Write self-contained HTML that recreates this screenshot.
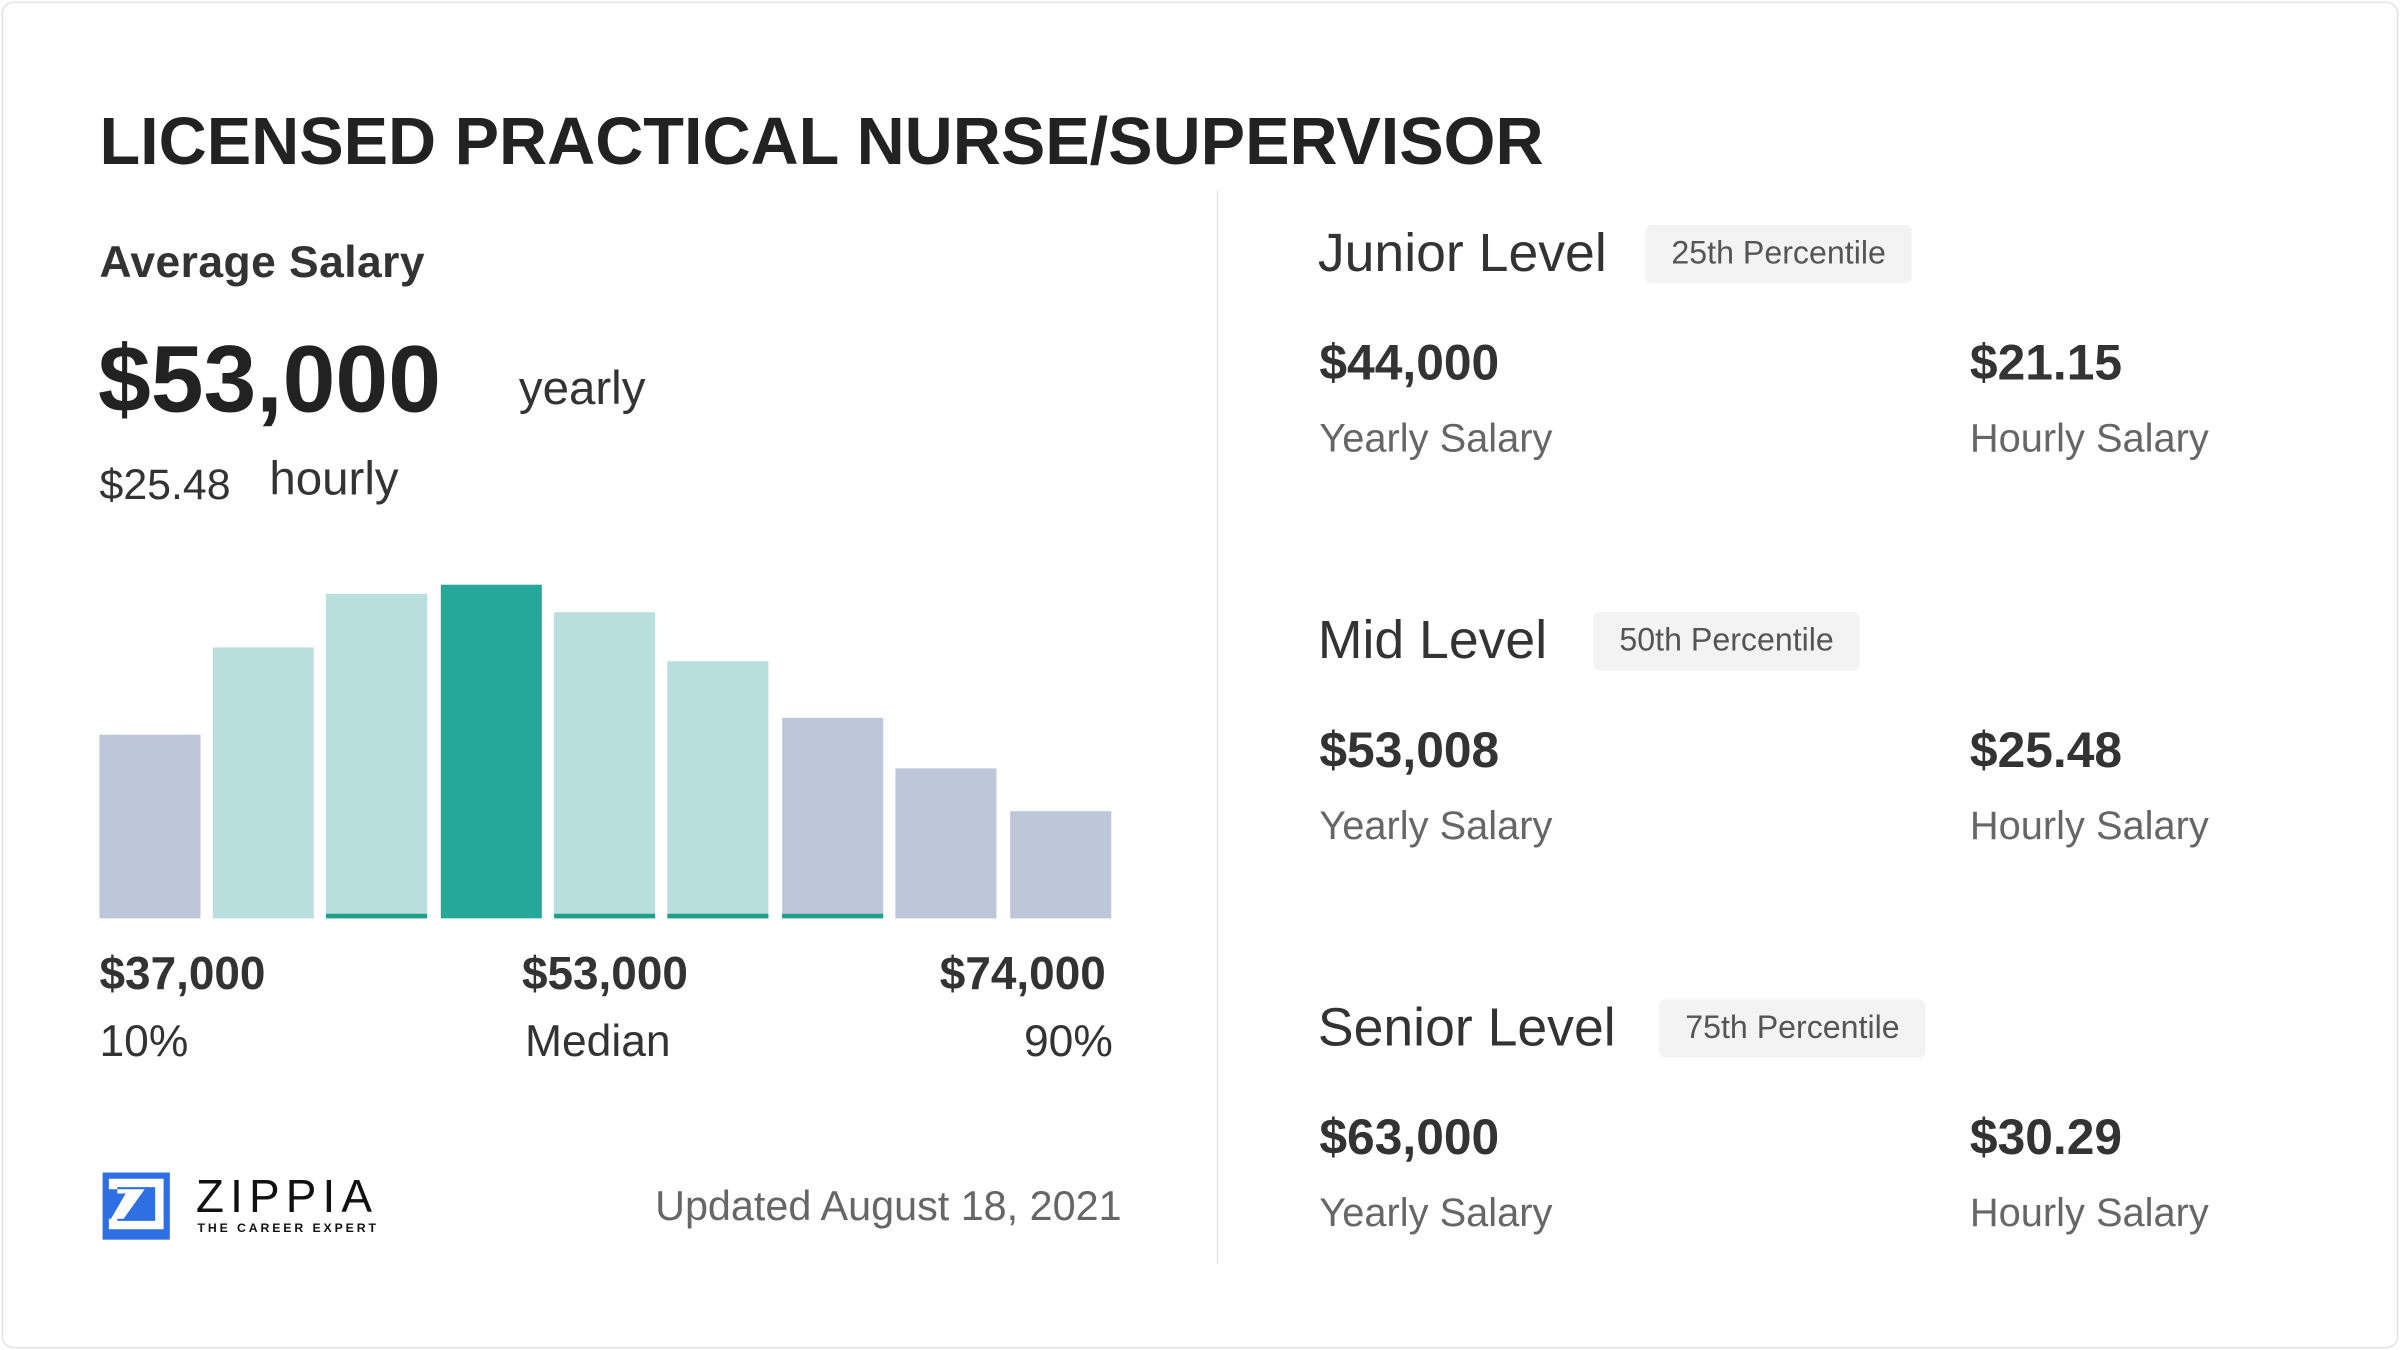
<!DOCTYPE html>
<html><head><meta charset="utf-8"><style>
html,body{margin:0;padding:0;background:#fff;overflow:hidden}
#w{width:1568px;height:882px;transform:scale(1.530612);transform-origin:0 0;position:relative;font-family:"Liberation Sans",sans-serif;color:#333}
.card{position:absolute;left:1px;top:1px;width:1564px;height:878px;border:1px solid #e4e4e4;border-radius:8px;background:#fff}
.a{position:absolute;white-space:nowrap}
.bar{position:absolute;bottom:282px;width:66px}
.pill{position:absolute;background:#f3f3f3;border-radius:4px;font-size:21px;color:#555;padding:0 17px;height:38px;line-height:38px}
.v{font-size:32.5px;font-weight:bold}
.l{font-size:26px;color:#666}
</style></head><body><div id="w">
<div class="card"></div>
<div class="a" style="left:65px;top:69px;font-size:43.5px;font-weight:bold;color:#222">LICENSED PRACTICAL NURSE/SUPERVISOR</div>
<div class="a" style="left:65px;top:156px;font-size:29px;color:#333;font-weight:bold;letter-spacing:0.3px;-webkit-text-stroke:0px">Average Salary</div>
<div class="a" style="left:64px;top:213px;font-size:62px;font-weight:bold;color:#222">$53,000</div>
<div class="a" style="left:339px;top:236px;font-size:31px">yearly</div>
<div class="a" style="left:65px;top:301px;font-size:28px">$25.48</div>
<div class="a" style="left:176px;top:295px;font-size:31px">hourly</div>
<div class="bar" style="left:65px;height:120px;background:#bec7d9"></div>
<div class="bar" style="left:139px;height:177px;background:#b8dfdb"></div>
<div class="bar" style="left:213px;height:212px;background:#b8dfdb;border-bottom:3px solid #1f9e8a;box-sizing:border-box"></div>
<div class="bar" style="left:288px;height:218px;background:#25a89a"></div>
<div class="bar" style="left:362px;height:200px;background:#b8dfdb;border-bottom:3px solid #1f9e8a;box-sizing:border-box"></div>
<div class="bar" style="left:436px;height:168px;background:#b8dfdb;border-bottom:3px solid #1f9e8a;box-sizing:border-box"></div>
<div class="bar" style="left:511px;height:131px;background:#bec7d9;border-bottom:3px solid #1f9e8a;box-sizing:border-box"></div>
<div class="bar" style="left:585px;height:98px;background:#bec7d9"></div>
<div class="bar" style="left:660px;height:70px;background:#bec7d9"></div>
<div class="a" style="left:65px;top:620px;font-size:30px;font-weight:bold;color:#333">$37,000</div>
<div class="a" style="left:341px;top:620px;font-size:30px;font-weight:bold;color:#333">$53,000</div>
<div class="a" style="left:614px;top:620px;font-size:30px;font-weight:bold;color:#333">$74,000</div>
<div class="a" style="left:65px;top:665px;font-size:29px">10%</div>
<div class="a" style="left:343px;top:665px;font-size:29px">Median</div>
<div class="a" style="left:669px;top:665px;font-size:29px">90%</div>
<svg class="a" style="left:67px;top:766px" width="44" height="44" viewBox="0 0 64 64"><rect width="64" height="64" fill="#2f6fe4"/><path d="M6 6h52v48H6v-10h8v2h36V14H14v6h8L8 44h12l20-28H6z" fill="#fff"/></svg>
<div class="a" style="left:128px;top:766px;font-size:30px;letter-spacing:4px;color:#111">ZIPPIA</div>
<div class="a" style="left:129px;top:798px;font-size:8px;letter-spacing:1.9px;color:#111;font-weight:bold">THE CAREER EXPERT</div>
<div class="a" style="left:428px;top:773px;font-size:27px;color:#666">Updated August 18, 2021</div>
<div class="a" style="left:795px;top:124px;width:1px;height:702px;background:#e6e6e6"></div>

<div class="a" style="left:861px;top:146px;font-size:35px">Junior Level</div>
<div class="pill" style="left:1075px;top:147px">25th Percentile</div>
<div class="a v" style="left:862px;top:219px">$44,000</div>
<div class="a v" style="left:1287px;top:219px">$21.15</div>
<div class="a l" style="left:862px;top:271px">Yearly Salary</div>
<div class="a l" style="left:1287px;top:271px">Hourly Salary</div>

<div class="a" style="left:861px;top:399px;font-size:35px">Mid Level</div>
<div class="pill" style="left:1041px;top:400px">50th Percentile</div>
<div class="a v" style="left:862px;top:472px">$53,008</div>
<div class="a v" style="left:1287px;top:472px">$25.48</div>
<div class="a l" style="left:862px;top:524px">Yearly Salary</div>
<div class="a l" style="left:1287px;top:524px">Hourly Salary</div>

<div class="a" style="left:861px;top:652px;font-size:35px">Senior Level</div>
<div class="pill" style="left:1084px;top:653px">75th Percentile</div>
<div class="a v" style="left:862px;top:725px">$63,000</div>
<div class="a v" style="left:1287px;top:725px">$30.29</div>
<div class="a l" style="left:862px;top:777px">Yearly Salary</div>
<div class="a l" style="left:1287px;top:777px">Hourly Salary</div>
</div></body></html>
